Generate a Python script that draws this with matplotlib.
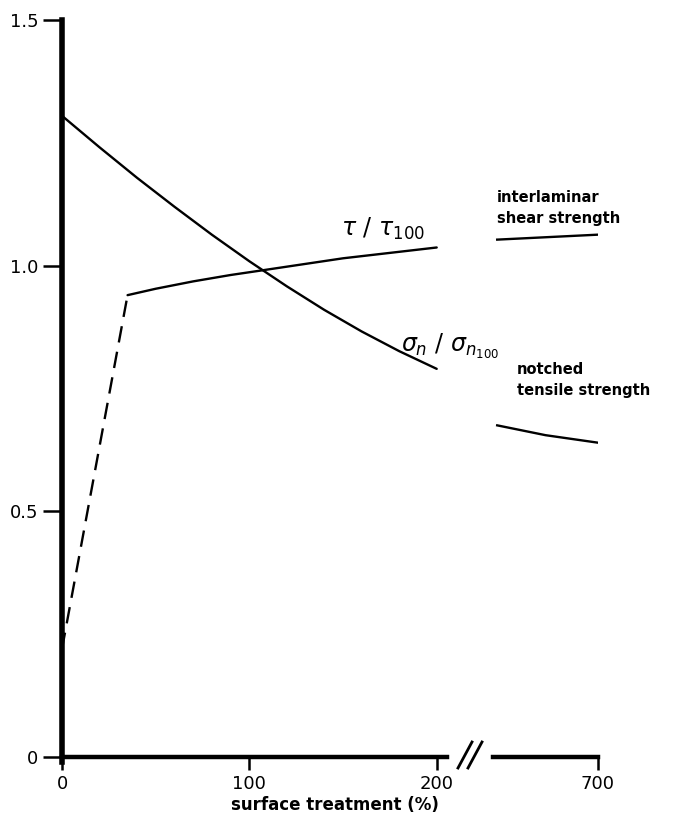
import numpy as np
import matplotlib
matplotlib.use("Agg")
from matplotlib import pyplot as plt
from matplotlib.lines import Line2D

plt.rcParams['font.family'] = ['DejaVu Sans']
plt.rcParams['mathtext.fontset'] = 'dejavusans'

# notched tensile strength, normalised to the 100% treatment value
sigma_x = [0, 20, 40, 60, 80, 100, 120, 140, 160, 180, 200]
sigma_y = [1.305, 1.241, 1.179, 1.12, 1.063, 1.009, 0.958, 0.91, 0.866, 0.826, 0.79]
sigma_far_x = [604, 650, 699]
sigma_far_y = [0.675, 0.655, 0.64]

# interlaminar shear strength, normalised to the 100% treatment value
tau_dash_x = [0, 35]
tau_dash_y = [0.22, 0.94]
tau_x = [35, 50, 70, 90, 106, 150, 200]
tau_y = [0.94, 0.953, 0.968, 0.981, 0.99, 1.015, 1.037]
tau_far_x = [604, 699]
tau_far_y = [1.053, 1.063]

W, H = 683, 821
fig = plt.figure(figsize=(W / 100, H / 100), dpi=100)

def px(x0, y0, x1, y1):
    return [x0 / W, 1 - y1 / H, (x1 - x0) / W, (y1 - y0) / H]

ax = fig.add_axes(px(62, 20, 447, 757))
ax2 = fig.add_axes(px(493, 20, 598, 757))

ax.plot(sigma_x, sigma_y, color='black', lw=1.7, solid_capstyle='round')
ax.plot(tau_x, tau_y, color='black', lw=1.7, solid_capstyle='round')
ax.plot(tau_dash_x, tau_dash_y, color='black', lw=1.7, ls=(0, (7, 4)))
ax2.plot(sigma_far_x, sigma_far_y, color='black', lw=1.7)
ax2.plot(tau_far_x, tau_far_y, color='black', lw=1.7)

ax.set_xlim(0, 205.5)
ax.set_ylim(0, 1.5)
ax2.set_xlim(600, 700)
ax2.set_ylim(0, 1.5)

for a in (ax, ax2):
    a.patch.set_alpha(0)
    a.spines['top'].set_visible(False)
    a.spines['right'].set_visible(False)
    a.spines['bottom'].set_linewidth(3.2)
    a.tick_params(axis='x', direction='out', length=9, width=1.8, pad=4, labelsize=13)

ax.spines['left'].set_linewidth(4)
ax.spines['left'].set_bounds(-0.01, 1.5)
ax.tick_params(axis='y', direction='out', length=14, width=1.8, pad=3, labelsize=13)
ax.set_xticks([0, 100, 200])
ax.set_xticklabels(['0', '100', '200'])
ax.set_yticks([0, 0.5, 1.0, 1.5])
ax.set_yticklabels(['0', '0.5', '1.0', '1.5'])

ax2.spines['left'].set_visible(False)
ax2.set_yticks([])
ax2.set_xticks([700])
ax2.set_xticklabels(['700'])

fig.text(335 / W, 1 - 805 / H, 'surface treatment (%)', fontsize=12,
         fontweight='bold', ha='center', va='center')

# axis break marks
for dx in (0, 10):
    fig.add_artist(Line2D([(458 + dx) / W, (472 + dx) / W],
                          [1 - 768 / H, 1 - 742 / H], color='black', lw=2))

ax.text(149, 1.06, r'$\tau\ /\ \tau_{100}$', fontsize=17, clip_on=False)
ax.text(181, 0.825, r'$\sigma_n\ /\ \sigma_{n_{100}}$', fontsize=17, clip_on=False)
fig.text(497 / W, 1 - 190 / H, 'interlaminar\nshear strength', fontsize=10.5,
         fontweight='bold', va='top', linespacing=1.5)
fig.text(517 / W, 1 - 362 / H, 'notched\ntensile strength', fontsize=10.5,
         fontweight='bold', va='top', linespacing=1.5)

fig.savefig('out.png', dpi=100)
